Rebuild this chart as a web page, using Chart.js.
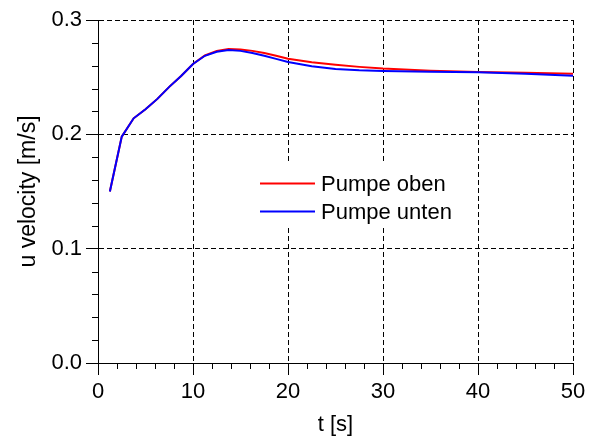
<!DOCTYPE html>
<html>
<head>
<meta charset="utf-8">
<script src="https://cdn.jsdelivr.net/npm/chart.js@4/dist/chart.umd.min.js"></script>
<style>
  html, body { margin: 0; padding: 0; background: #fff; }
  #wrap { width: 591px; height: 436px; }
</style>
</head>
<body>
<div id="wrap"><canvas id="velChart"></canvas></div>
<script>
// time steps [s]
const times = [1.25, 2.5, 3.75, 5, 6.25, 7.5, 8.75, 10, 11.25, 12.5, 13.75, 15,
               16.25, 17.5, 18.75, 20, 22.5, 25, 27.5, 30, 35, 40, 45, 50];
// u velocity [m/s]
const pumpeOben = [0.150, 0.198, 0.214, 0.222, 0.231, 0.2415, 0.251, 0.2615, 0.2690, 0.2730, 0.2746, 0.2743,
                   0.2730, 0.2712, 0.2688, 0.2662, 0.2630, 0.2608, 0.2590, 0.2575, 0.2556, 0.2545, 0.2538, 0.2530];
const pumpeUnten = [0.150, 0.198, 0.214, 0.222, 0.231, 0.2415, 0.251, 0.2615, 0.2687, 0.2722, 0.2737, 0.2730,
                    0.2712, 0.2688, 0.2660, 0.2632, 0.2596, 0.2572, 0.2560, 0.2553, 0.2548, 0.2543, 0.2530, 0.2512];
const seriesLabels = ['Pumpe oben', 'Pumpe unten'];
const xTicks = [0, 10, 20, 30, 40, 50];
const yTicks = [0.0, 0.1, 0.2, 0.3];

Chart.defaults.font.family = '"Liberation Sans", Arial, sans-serif';
Chart.defaults.font.size = 22;
Chart.defaults.color = '#000';

const toPoints = (ys) => times.map((t, i) => ({ x: t, y: ys[i] }));

// minor ticks + legend box drawn inside the plot
const extras = {
  id: 'extras',
  afterDraw(chart) {
    const { ctx, scales: { x, y } } = chart;
    ctx.save();
    ctx.strokeStyle = '#000';
    ctx.lineWidth = 1;
    ctx.beginPath();
    for (let v = 2; v < 50; v += 2) {
      if (v % 10 === 0) continue;
      const px = Math.round(x.getPixelForValue(v)) + 0.5;
      ctx.moveTo(px, y.bottom);
      ctx.lineTo(px, y.bottom + 6);
    }
    for (let k = 1; k < 15; k++) {
      if (k % 5 === 0) continue;
      const py = Math.round(y.getPixelForValue(k * 0.02)) + 0.5;
      ctx.moveTo(x.left - 6, py);
      ctx.lineTo(x.left, py);
    }
    ctx.stroke();

    // legend
    ctx.fillStyle = '#fff';
    ctx.fillRect(252, 164, 212, 61);
    const rows = [183.5, 211.5];
    chart.data.datasets.forEach((ds, i) => {
      ctx.strokeStyle = ds.borderColor;
      ctx.lineWidth = 2;
      ctx.beginPath();
      ctx.moveTo(260, rows[i]);
      ctx.lineTo(315, rows[i]);
      ctx.stroke();
      ctx.fillStyle = '#000';
      ctx.font = '22px "Liberation Sans", Arial, sans-serif';
      ctx.textBaseline = 'middle';
      ctx.textAlign = 'left';
      ctx.fillText(ds.label, 321, rows[i] + 1);
    });
    ctx.restore();
  }
};

new Chart(document.getElementById('velChart'), {
  type: 'line',
  data: {
    datasets: [
      { label: seriesLabels[0], data: toPoints(pumpeOben), borderColor: '#ff0000', borderWidth: 2, pointRadius: 0, tension: 0, order: 2 },
      { label: seriesLabels[1], data: toPoints(pumpeUnten), borderColor: '#0000ff', borderWidth: 2, pointRadius: 0, tension: 0, order: 1 }
    ]
  },
  options: {
    responsive: true,
    maintainAspectRatio: false,
    animation: false,
    layout: { padding: { top: 20, right: 18, left: 0, bottom: 0 } },
    plugins: { legend: { display: false }, tooltip: { enabled: false } },
    scales: {
      x: {
        type: 'linear',
        min: 0, max: 50,
        afterBuildTicks: (s) => { s.ticks = xTicks.map(v => ({ value: v })); },
        afterFit: (s) => { s.height = 73; },
        ticks: { padding: 4, maxRotation: 0 },
        grid: { color: '#000', tickColor: '#000', tickLength: 12, lineWidth: 1 },
        border: { display: true, color: '#000', dash: [5, 3] },
        title: { display: true, text: 't [s]', padding: 0, font: { size: 22, lineHeight: 1 } }
      },
      y: {
        type: 'linear',
        min: 0, max: 0.3,
        afterBuildTicks: (s) => { s.ticks = yTicks.map(v => ({ value: v })); },
        afterFit: (s) => { s.width = 98; },
        ticks: { padding: 4, callback: (v) => v.toFixed(1) },
        grid: { color: '#000', tickColor: '#000', tickLength: 12, lineWidth: 1 },
        border: { display: true, color: '#000', dash: [5, 3] },
        title: { display: true, text: 'u velocity [m/s]', padding: { top: 15, bottom: 0 }, font: { size: 23, lineHeight: 1.2 } }
      }
    }
  },
  plugins: [extras]
});
</script>
</body>
</html>
